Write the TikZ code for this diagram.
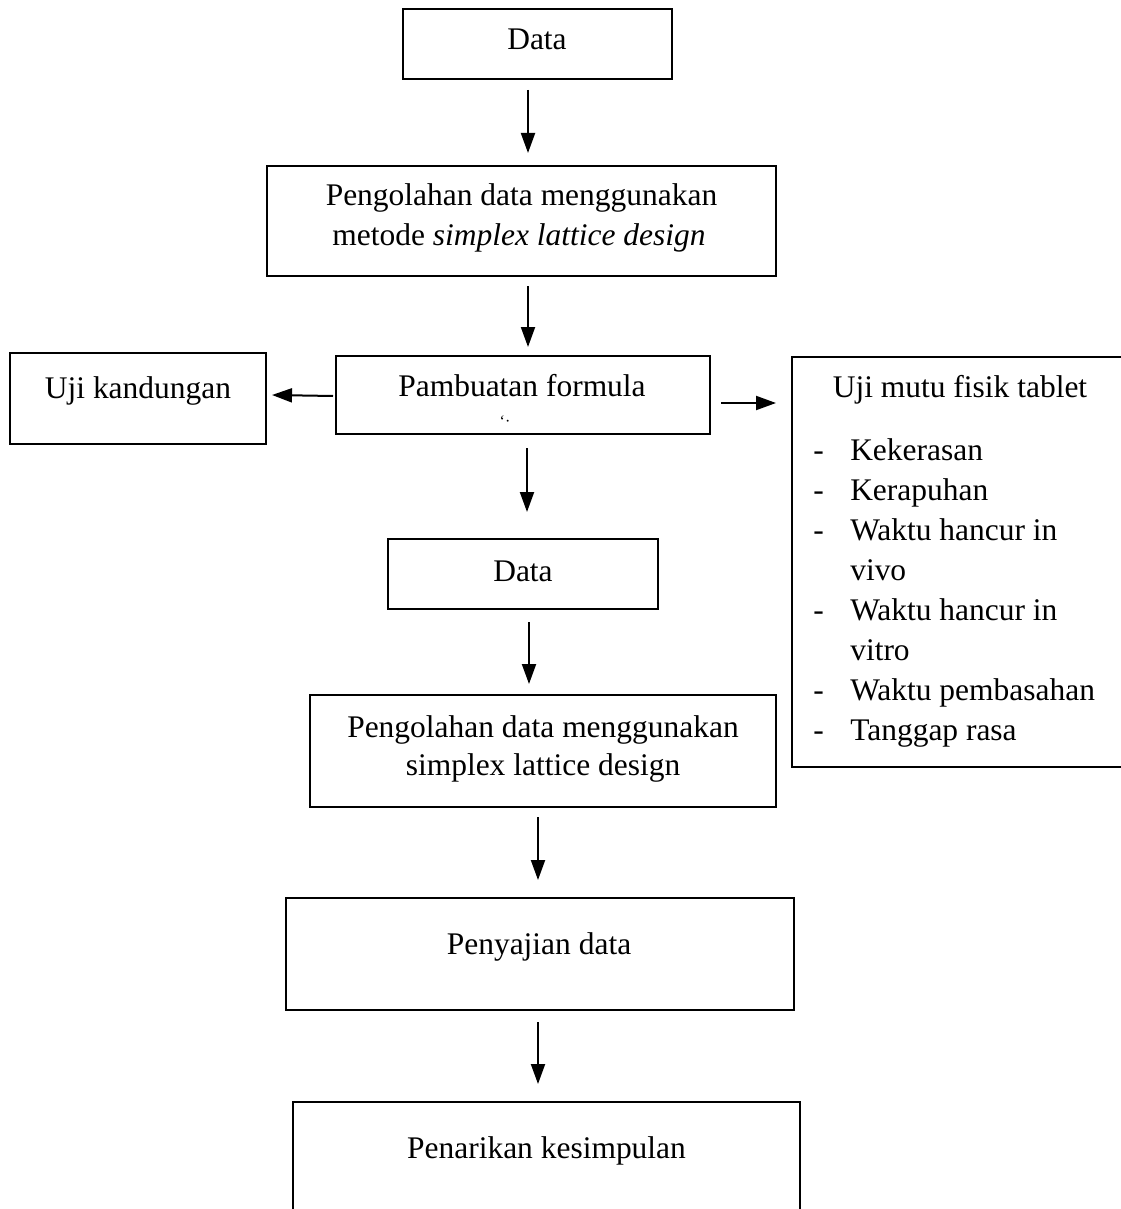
\documentclass[tikz,border=0pt]{standalone}
\usepackage{fontspec}
\setmainfont{Liberation Serif}
\usetikzlibrary{arrows.meta}
\begin{document}
\begin{tikzpicture}[x=0.75pt,y=-0.75pt,
  box/.style={draw, line width=1.8pt, inner sep=0pt, outer sep=0pt},
  ghost/.style={inner sep=0pt, outer sep=0pt},
  txt/.style={inner sep=0pt, anchor=base, font=\fontsize{23.6}{30}\selectfont},
  ltxt/.style={inner sep=0pt, anchor=base west, font=\fontsize{23.6}{30}\selectfont},
  arr/.style={line width=1.5pt, -{Triangle[length=15pt,width=10.5pt]}}
]
\useasboundingbox (0,0) rectangle (1120,1209);
\fill[white] (0,0) rectangle (1120,1209);

% boxes
\node[box, minimum width=201.75pt, minimum height=52.5pt] (b1) at (537.5,44) {};
\node[box, minimum width=381.75pt, minimum height=82.5pt] (b2) at (521.5,221) {};
\node[box, minimum width=280.5pt, minimum height=58.5pt] (b3) at (523,395) {};
\node[box, minimum width=192pt, minimum height=68.25pt] (uk) at (138,398.5) {};
\node[box, minimum width=253.5pt, minimum height=307.5pt] (rb) at (961,562) {};
\node[box, minimum width=202.5pt, minimum height=52.5pt] (b4) at (523,574) {};
\node[box, minimum width=349.5pt, minimum height=84pt] (b5) at (543,751) {};
\node[box, minimum width=381pt, minimum height=84pt] (b6) at (540,954) {};
\node[ghost, minimum width=380.25pt, minimum height=87pt] (b7) at (546.5,1160) {};
\draw[line width=1.8pt] (b7.south west) -- (b7.north west) -- (b7.north east) -- (b7.south east);

% texts
\node[txt] (t1) at (537,50) {Data};
\node[txt] (t2a) at (521.5,205) {Pengolahan data menggunakan};
\node[txt] (t2b) at (519,245) {metode \textit{simplex lattice design}};
\node[txt] (t3) at (522,396) {Pambuatan formula};
\node[inner sep=0pt, font=\fontsize{12}{12}\selectfont] (t3d) at (505,421) {‘·};
\node[txt] (tuk) at (138,398) {Uji kandungan};
\node[txt] (trb) at (960,397) {Uji mutu fisik tablet};
\node[txt] (t4) at (523,581) {Data};
\node[txt] (t5a) at (543,737) {Pengolahan data menggunakan};
\node[txt] (t5b) at (543,775) {simplex lattice design};
\node[txt] (t6) at (539,954) {Penyajian data};
\node[txt] (t7) at (546.5,1158) {Penarikan kesimpulan};

% list in right box
\foreach \i/\y/\s in {1/460/Kekerasan, 2/500/Kerapuhan, 3/540/Waktu hancur in, 5/620/Waktu hancur in, 7/700/Waktu pembasahan, 8/740/Tanggap rasa}{
  \node[ltxt] (d\i) at (813,\y) {-};
  \node[ltxt] (l\i) at (850,\y) {\s};
}
\node[ltxt] (l4) at (850,580) {vivo};
\node[ltxt] (l6) at (850,660) {vitro};

% connectors
\draw[arr] ([shift={(-9.5,11)}]b1.south) -- ([shift={(6.5,-13)}]b2.north);
\draw[arr] ([shift={(6.5,10)}]b2.south) -- ([shift={(5,-9)}]b3.north);
\draw[arr] ([shift={(4,14)}]b3.south) -- ([shift={(4,-27)}]b4.north);
\draw[arr] ([shift={(6,13)}]b4.south) -- ([shift={(-14,-11)}]b5.north);
\draw[arr] ([shift={(-5,10)}]b5.south) -- ([shift={(-2,-18)}]b6.north);
\draw[arr] ([shift={(-2,12)}]b6.south) -- ([shift={(-8.5,-18)}]b7.north);
\draw[arr] ([shift={(-3,1)}]b3.west) -- ([shift={(6,-3.5)}]uk.east);
\draw[arr] ([shift={(11,8)}]b3.east) -- ([shift={(-16,46)}]rb.north west);
\end{tikzpicture}
\end{document}
